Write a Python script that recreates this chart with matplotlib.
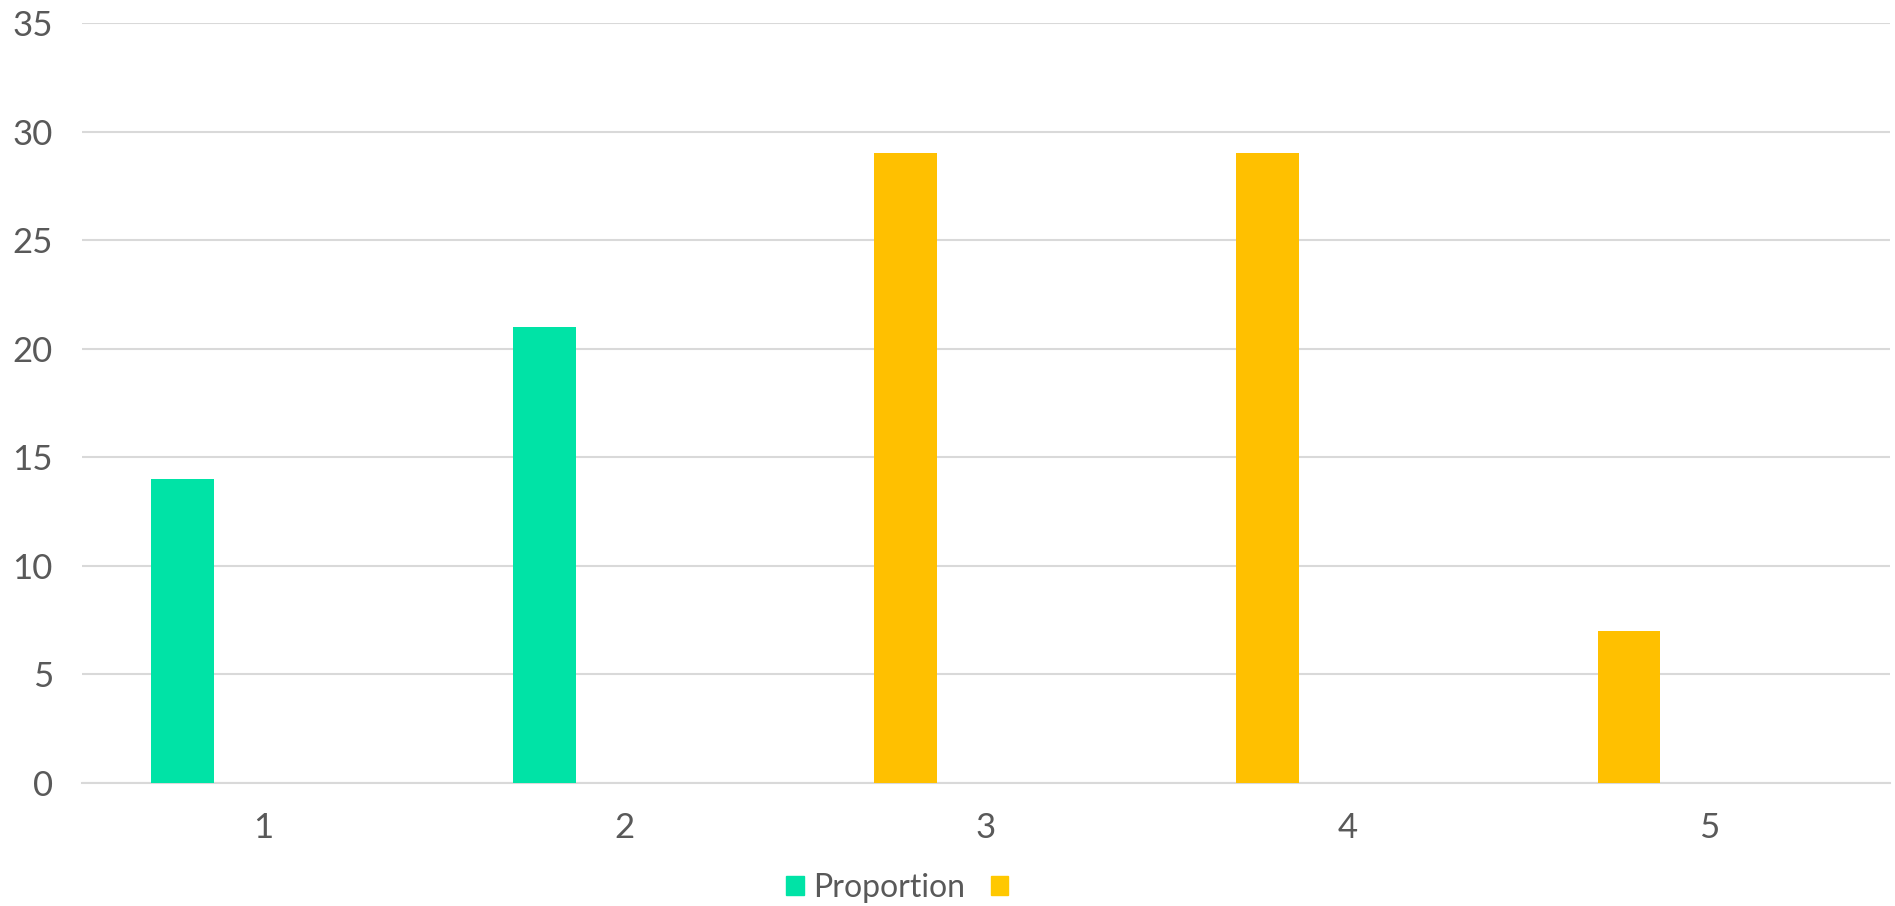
import matplotlib.pyplot as plt
from matplotlib.patches import Patch

categories = [1, 2, 3, 4, 5]
proportion = [14, 21, 29, 29, 7]
point_colors = ['#00E3A6', '#00E3A6', '#FFC000', '#FFC000', '#FFC000']

text_color = '#595959'
grid_color = '#D9D9D9'

plt.rcParams['font.family'] = ['Lato', 'DejaVu Sans']

fig = plt.figure(figsize=(18.95, 9.06), dpi=100)
ax = fig.add_axes([0.0433, 0.1358, 0.9541, 0.8388])

# clustered layout: the bar sits left of each category centre
positions = [c - 0.222 for c in categories]
ax.bar(positions, proportion, width=0.174, color=point_colors, zorder=3)

ax.set_xlim(0.5, 5.5)
ax.set_ylim(0, 35)
ax.set_yticks(range(0, 36, 5))
ax.set_xticks(categories)
ax.set_xticklabels([str(c) for c in categories])

ax.yaxis.grid(True, color=grid_color, linewidth=1.5)
ax.set_axisbelow(True)
for side in ['left', 'right', 'top']:
    ax.spines[side].set_visible(False)
ax.spines['bottom'].set_color(grid_color)
ax.spines['bottom'].set_linewidth(1.5)
ax.tick_params(axis='both', length=0, labelsize=25, colors=text_color)
ax.tick_params(axis='y', pad=21)
ax.tick_params(axis='x', pad=21)

handles = [Patch(color='#00E3A6'), Patch(color='#FFC800')]
fig.legend(handles, ['Proportion', ''], loc='center', bbox_to_anchor=(0.476, 0.02),
           ncol=2, frameon=False, fontsize=23, labelcolor=text_color,
           handlelength=0.55, handleheight=0.55, handletextpad=0.3, columnspacing=0.8)

fig.savefig('out.png', dpi=100)
